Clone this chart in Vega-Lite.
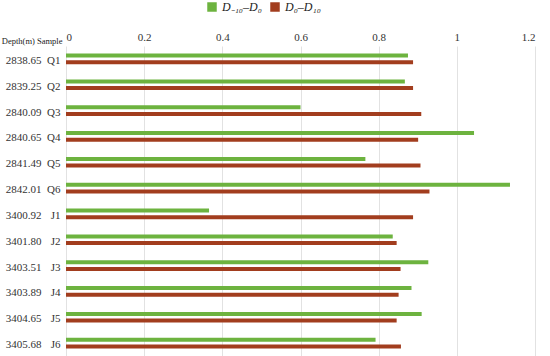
{
  "$schema": "https://vega.github.io/schema/vega-lite/v6.json",
  "width": 469,
  "height": 310,
  "autosize": {"type": "none"},
  "padding": {"left": 66, "top": 46, "right": 15, "bottom": 0},
  "background": "white",
  "config": {
    "font": "Liberation Serif",
    "axis": {"labelFont": "Liberation Serif", "titleFont": "Liberation Serif"},
    "legend": {"labelFont": "Liberation Serif"},
    "view": {"stroke": null}
  },
  "data": {
    "values": [
      {"sample": "Q1", "depth": "2838.65", "series": "g", "value": 0.875},
      {"sample": "Q1", "depth": "2838.65", "series": "r", "value": 0.888},
      {"sample": "Q2", "depth": "2839.25", "series": "g", "value": 0.867},
      {"sample": "Q2", "depth": "2839.25", "series": "r", "value": 0.888},
      {"sample": "Q3", "depth": "2840.09", "series": "g", "value": 0.60},
      {"sample": "Q3", "depth": "2840.09", "series": "r", "value": 0.909},
      {"sample": "Q4", "depth": "2840.65", "series": "g", "value": 1.044},
      {"sample": "Q4", "depth": "2840.65", "series": "r", "value": 0.901},
      {"sample": "Q5", "depth": "2841.49", "series": "g", "value": 0.766},
      {"sample": "Q5", "depth": "2841.49", "series": "r", "value": 0.907},
      {"sample": "Q6", "depth": "2842.01", "series": "g", "value": 1.136},
      {"sample": "Q6", "depth": "2842.01", "series": "r", "value": 0.930},
      {"sample": "J1", "depth": "3400.92", "series": "g", "value": 0.366},
      {"sample": "J1", "depth": "3400.92", "series": "r", "value": 0.888},
      {"sample": "J2", "depth": "3401.80", "series": "g", "value": 0.836},
      {"sample": "J2", "depth": "3401.80", "series": "r", "value": 0.846},
      {"sample": "J3", "depth": "3403.51", "series": "g", "value": 0.927},
      {"sample": "J3", "depth": "3403.51", "series": "r", "value": 0.856},
      {"sample": "J4", "depth": "3403.89", "series": "g", "value": 0.884},
      {"sample": "J4", "depth": "3403.89", "series": "r", "value": 0.851},
      {"sample": "J5", "depth": "3404.65", "series": "g", "value": 0.910},
      {"sample": "J5", "depth": "3404.65", "series": "r", "value": 0.846},
      {"sample": "J6", "depth": "3405.68", "series": "g", "value": 0.792},
      {"sample": "J6", "depth": "3405.68", "series": "r", "value": 0.857}
    ]
  },
  "layer": [
    {
      "mark": {"type": "bar", "opacity": 0},
      "encoding": {
        "y": {
          "field": "depth", "type": "nominal", "sort": null,
          "scale": {"paddingInner": 0.59, "paddingOuter": 0.295},
          "axis": {
            "orient": "left", "title": null, "ticks": false, "domain": false,
            "labelAlign": "center", "labelPadding": 43, "labelFontSize": 11,
            "labelColor": "#333333", "labelBaseline": "middle", "labelOffset": 2
          }
        },
        "x": {
          "field": "value", "type": "quantitative",
          "scale": {"domain": [0, 1.2], "nice": false},
          "axis": {
            "orient": "top", "title": null, "values": [0, 0.2, 0.4, 0.6, 0.8, 1, 1.2],
            "format": "~g",
            "ticks": false, "domain": false, "grid": true, "gridColor": "#e2e2e2",
            "labelFontSize": 11, "labelColor": "#333333", "labelPadding": 4
          }
        }
      }
    },
    {
      "mark": {"type": "bar"},
      "encoding": {
        "y": {
          "field": "sample", "type": "nominal", "sort": null,
          "scale": {"paddingInner": 0.59, "paddingOuter": 0.295},
          "axis": {
            "orient": "left", "title": "Depth(m) Sample", "titleAngle": 0,
            "titleAlign": "right", "titleBaseline": "bottom", "titleX": -4, "titleY": -1,
            "titleFontSize": 8.5, "titleFontWeight": "normal", "titleColor": "#222222",
            "ticks": false, "domain": false, "labelPadding": 6, "labelFontSize": 11,
            "labelColor": "#333333", "labelOffset": 2
          }
        },
        "yOffset": {
          "field": "series", "type": "nominal", "sort": ["g", "r"],
          "scale": {"paddingInner": 0.4, "paddingOuter": 0}
        },
        "x": {
          "field": "value", "type": "quantitative",
          "scale": {"domain": [0, 1.2], "nice": false}
        },
        "color": {
          "field": "series", "type": "nominal",
          "scale": {"domain": ["g", "r"], "range": ["#6db33f", "#a23d1e"]},
          "legend": {
            "orient": "none", "direction": "horizontal", "legendX": 140, "legendY": -45,
            "title": null, "symbolType": "square", "symbolSize": 90, "symbolStrokeWidth": 0,
            "labelExpr": "datum.value == 'g' ? 'D₋₁₀–D₀' : 'D₀–D₁₀'",
            "labelFontStyle": "italic", "labelFontSize": 12,
            "labelColor": "#222222", "columnPadding": 7, "symbolOpacity": 1
          }
        }
      }
    }
  ],
  "resolve": {"scale": {"y": "independent"}}
}
